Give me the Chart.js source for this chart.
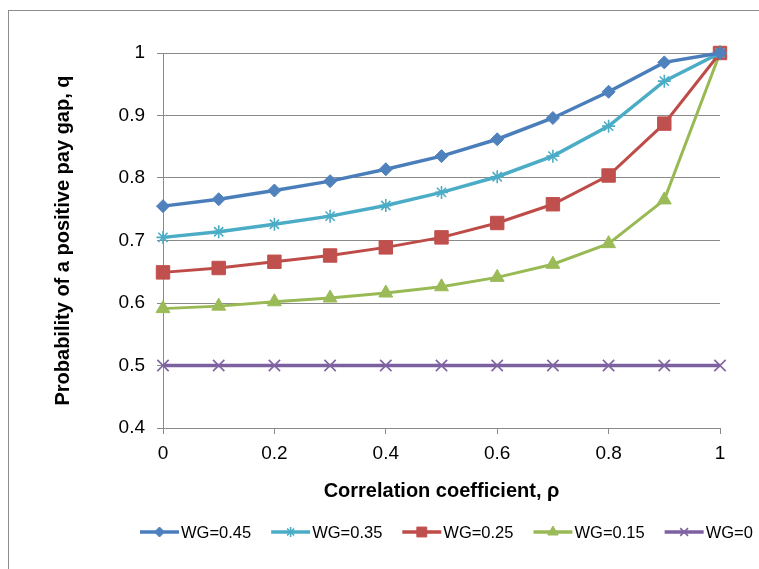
<!DOCTYPE html>
<html>
<head>
<meta charset="utf-8">
<script src="https://cdn.jsdelivr.net/npm/chart.js@4/dist/chart.umd.min.js"></script>
<style>
  html, body { margin: 0; padding: 0; background: #fff; }
  #wrap { width: 759px; height: 569px; }
</style>
</head>
<body>
<div id="wrap"><canvas id="gapChart" width="759" height="569"></canvas></div>
<script>
// correlation coefficient on the x axis
const rho = [0, 0.1, 0.2, 0.3, 0.4, 0.5, 0.6, 0.7, 0.8, 0.9, 1];

// probability of a positive pay gap, one list per WG
const wg045 = [0.755, 0.766, 0.780, 0.795, 0.814, 0.835, 0.862, 0.896, 0.938, 0.985, 1];
const wg035 = [0.705, 0.714, 0.726, 0.739, 0.756, 0.777, 0.802, 0.835, 0.883, 0.955, 1];
const wg025 = [0.649, 0.656, 0.666, 0.676, 0.689, 0.705, 0.728, 0.758, 0.804, 0.887, 1];
const wg015 = [0.591, 0.595, 0.602, 0.608, 0.616, 0.626, 0.641, 0.662, 0.695, 0.765, 1];
const wg0   = [0.5, 0.5, 0.5, 0.5, 0.5, 0.5, 0.5, 0.5, 0.5, 0.5, 0.5];

const seriesLabels = ['WG=0.45', 'WG=0.35', 'WG=0.25', 'WG=0.15', 'WG=0'];
const seriesValues = [wg045, wg035, wg025, wg015, wg0];

// styling
const lineColors = ['#4A7EBB', '#4BACC6', '#BE4B48', '#98B954', '#7D60A0'];
const markerColors = ['#4F81BD', '#4BACC6', '#C0504D', '#9BBB59', '#8064A2'];
const markerStyles = ['rectRot', 'star', 'rect', 'triangle', 'crossRot'];
const markerRadius = [6.5, 6.5, 9.5, 8, 8];
const legendRadius = [5, 5, 7, 6, 5.5];
const lineWidths = [3.5, 3.5, 3, 3, 3.5];
const gridColor = '#8a8a8a';
const fontFamily = '"Liberation Sans", Arial, sans-serif';

Chart.defaults.font.family = fontFamily;

function fmtTick(v) {
  return String(Math.round(v * 100) / 100);
}

// outer frame + white background
const frame = {
  id: 'frame',
  beforeDraw(chart) {
    const ctx = chart.ctx;
    ctx.save();
    ctx.fillStyle = '#fff';
    ctx.fillRect(0, 0, chart.width, chart.height);
    ctx.strokeStyle = '#8c8c8c';
    ctx.lineWidth = 1;
    ctx.strokeRect(8.5, 10.5, chart.width + 20, chart.height + 20);
    ctx.restore();
  }
};

// legend with a line segment and marker, like the spreadsheet one
const bottomLegend = {
  id: 'bottomLegend',
  afterDraw(chart) {
    const ctx = chart.ctx;
    const lineLen = 39;
    const gap = 2;
    const itemGap = 20;
    let x = 140;
    const y = 532;
    ctx.save();
    ctx.font = '16.5px ' + fontFamily;
    ctx.textBaseline = 'middle';
    chart.data.datasets.forEach((ds, i) => {
      ctx.strokeStyle = ds.borderColor;
      ctx.lineWidth = 3.5;
      ctx.beginPath();
      ctx.moveTo(x, y);
      ctx.lineTo(x + lineLen, y);
      ctx.stroke();

      ctx.fillStyle = ds.pointBackgroundColor;
      ctx.strokeStyle = ds.pointBorderColor;
      ctx.lineWidth = ds.pointBorderWidth;
      Chart.helpers.drawPoint(ctx, {
        pointStyle: ds.pointStyle,
        radius: legendRadius[i],
        rotation: 0,
        borderWidth: ds.pointBorderWidth
      }, x + lineLen / 2, y);

      ctx.fillStyle = '#000';
      ctx.fillText(ds.label, x + lineLen + gap, y + 1);
      x += lineLen + gap + ctx.measureText(ds.label).width + itemGap;
    });
    ctx.restore();
  }
};

const datasets = seriesLabels.map((label, i) => ({
  label: label,
  data: rho.map((r, j) => ({ x: r, y: seriesValues[i][j] })),
  borderColor: lineColors[i],
  backgroundColor: markerColors[i],
  borderWidth: lineWidths[i],
  tension: 0,
  pointStyle: markerStyles[i],
  pointRadius: markerRadius[i],
  pointBackgroundColor: markerColors[i],
  pointBorderColor: markerColors[i],
  pointBorderWidth: (markerStyles[i] === 'star' || markerStyles[i] === 'crossRot') ? 1.6 : 1,
  clip: false
}));

const ctx = document.getElementById('gapChart').getContext('2d');
new Chart(ctx, {
  type: 'line',
  data: { datasets: datasets },
  plugins: [frame, bottomLegend],
  options: {
    responsive: false,
    animation: false,
    layout: {
      padding: { left: 46, right: 39, top: 53, bottom: 61 }
    },
    plugins: {
      legend: { display: false },
      tooltip: { enabled: false }
    },
    scales: {
      x: {
        type: 'linear',
        min: 0,
        max: 1,
        ticks: {
          stepSize: 0.2,
          color: '#000',
          font: { size: 19 },
          padding: 8,
          maxRotation: 0,
          autoSkip: false,
          callback: v => fmtTick(v)
        },
        grid: { drawOnChartArea: false, drawTicks: true, tickLength: 6, color: gridColor },
        border: { color: gridColor, width: 1 },
        title: {
          display: true,
          text: 'Correlation coefficient, ρ',
          color: '#000',
          font: { size: 20, weight: 'bold' },
          padding: { top: 0, bottom: 5 }
        },
        afterFit: scale => { scale.height = 80; }
      },
      y: {
        min: 0.4,
        max: 1,
        ticks: {
          stepSize: 0.1,
          color: '#000',
          font: { size: 19 },
          padding: 12,
          callback: v => fmtTick(v)
        },
        grid: { drawOnChartArea: true, drawTicks: true, tickLength: 6, color: gridColor },
        border: { color: gridColor, width: 1 },
        title: {
          display: true,
          text: 'Probability of a positive pay gap, q',
          color: '#000',
          font: { size: 20, weight: 'bold' },
          padding: { top: 5, bottom: 0 }
        },
        afterFit: scale => { scale.width = 117; }
      }
    }
  }
});
</script>
</body>
</html>
